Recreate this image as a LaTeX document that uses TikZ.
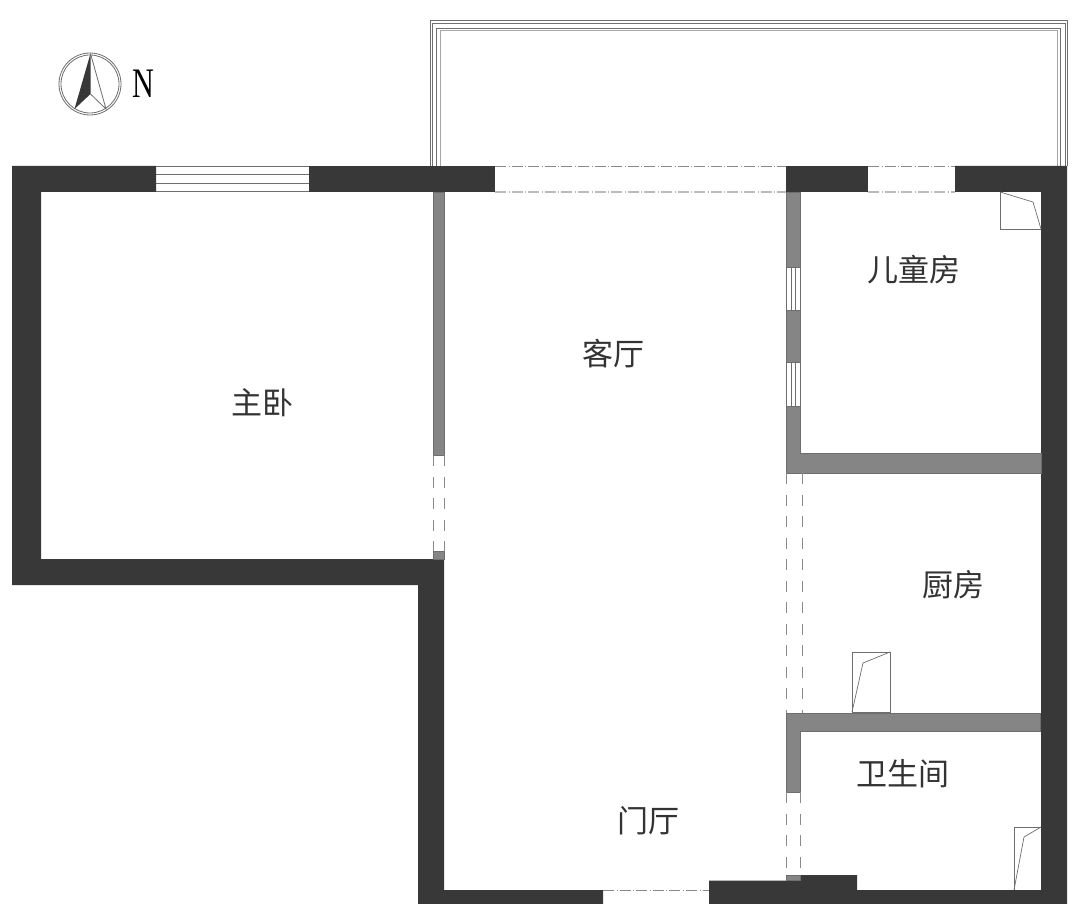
\documentclass[tikz,border=0pt]{standalone}
\usepackage{fontspec}
\usepackage{graphicx}
\setmainfont{Liberation Serif}
\newfontfamily\cjk{Noto Sans CJK SC}
\definecolor{darkwall}{HTML}{383838}
\definecolor{graywall}{HTML}{858585}
\definecolor{thinline}{HTML}{6E6E6E}
\definecolor{dashline}{HTML}{8A8A8A}
\definecolor{paledash}{HTML}{BBBBBB}
\definecolor{labelink}{HTML}{333333}
\tikzset{
  x=1pt,y=-1pt,
  darkfill/.style={fill=darkwall,draw=none},
  grayfill/.style={fill=graywall,draw=thinline,line width=0.7pt},
  thin line/.style={draw=thinline,line width=0.8pt},
  open dash/.style={draw=dashline,line width=0.8pt,dash pattern=on 11pt off 10.5pt},
  wide dash/.style={draw=dashline,line width=0.8pt,dash pattern=on 11pt off 2.5pt on 0.6pt off 2.5pt},
  pale dash/.style={draw=paledash,line width=1.2pt,dash pattern=on 11pt off 2.5pt on 0.6pt off 2.5pt},
  roomlabel/.style={font=\cjk\fontsize{31}{31}\selectfont,text=labelink,inner sep=0pt,anchor=center},
  fixture/.style={draw=thinline,line width=0.7pt}
}
\begin{document}
\begin{tikzpicture}
\useasboundingbox (0,0) rectangle (1081,904);
\fill[white] (0,0) rectangle (1081,904);
% balcony
\draw[thin line] (430,166) -- (430,20.5) -- (1067,20.5) -- (1067,166);
\draw[thin line] (432.5,166) -- (432.5,23.5) -- (1065,23.5) -- (1065,166);
\draw[thin line] (436,166) -- (436,28) -- (1060.5,28) -- (1060.5,166);
\draw[draw=black!35,line width=1pt] (440,166) -- (440,31) -- (1057,31) -- (1057,166);
% dark walls
\path[darkfill] (12,166) -- (156,166) -- (156,192) -- (41,192) -- (41,559) -- (444,559) -- (444,890) -- (603,890) -- (603,904) -- (418,904) -- (418,585) -- (12,585) -- cycle;
\path[darkfill] (309,166) rectangle (495,192);
\path[darkfill] (786,166) rectangle (868,192);
\path[darkfill] (955,166) -- (1067,166) -- (1067,904) -- (709,904) -- (709,880.5) -- (800,880.5) -- (800,875) -- (857,875) -- (857,890) -- (1041,890) -- (1041,192) -- (955,192) -- cycle;
% gray walls
\path[grayfill] (433,192) rectangle (444,455);
\path[grayfill] (433,551) rectangle (444,559);
\path[grayfill] (786,192) -- (800,192) -- (800,267) -- (786,267) -- cycle;
\path[grayfill] (786,310) rectangle (800,362);
\path[grayfill] (786,406) -- (800,406) -- (800,453) -- (1041,453) -- (1041,473) -- (786,473) -- cycle;
\path[grayfill] (786,713) -- (1040,713) -- (1040,731.5) -- (800,731.5) -- (800,792) -- (786,792) -- cycle;
\path[grayfill] (786,875) rectangle (800,880.5);
% windows
\foreach \yy in {166.5,174.5,183,191.5} \draw[thin line] (156,\yy) -- (309,\yy);
\foreach \xx in {786,791,795,800} {
  \draw[thin line] (\xx,267) -- (\xx,310);
  \draw[thin line] (\xx,362) -- (\xx,406);
}
% openings
\draw[wide dash] (495,166) -- (786,166);
\draw[pale dash] (495,192) -- (786,192);
\draw[wide dash] (868,166) -- (955,166);
\draw[pale dash] (868,192) -- (955,192);
\draw[open dash] (433,455) -- (433,551);
\draw[open dash] (444,455) -- (444,551);
\draw[open dash] (786,473) -- (786,713);
\draw[open dash] (802,473) -- (802,713);
\draw[open dash] (786,792) -- (786,875);
\draw[open dash] (800,792) -- (800,875);
\draw[wide dash] (603,890) -- (709,890);
% fixtures
\draw[fixture] (1000,192) -- (1000,229) -- (1041,229);
\draw[fixture] (1000,192) -- (1033,202) -- (1041,229);
\draw[fixture] (852,712) rectangle (890,652);
\draw[fixture] (852,712) -- (863,663) -- (890,652);
\draw[fixture] (1014,890) -- (1014,827) -- (1041,827);
\draw[fixture] (1014,890) -- (1024,837) -- (1041,827);
% compass
\draw[draw=thinline,line width=0.8pt] (90,84) circle[radius=31];
\draw[draw=thinline,line width=0.8pt] (90,84) circle[radius=29];
\fill[darkwall] (90.5,53.5) -- (74.5,109) -- (90.5,94) -- cycle;
\draw[draw=thinline,line width=0.8pt] (90.5,53.5) -- (106,109) -- (90.5,94);
\node[inner sep=0pt,anchor=center] (north) at (143,83.5) {\scalebox{0.72}[1]{\fontsize{42}{42}\selectfont N}};
% labels
\node[roomlabel] (zhuwo) at (262,403) {主卧};
\node[roomlabel] (keting) at (613,354) {客厅};
\node[roomlabel] (ertong) at (913.5,270) {儿童房};
\node[roomlabel] (chufang) at (953.5,585) {厨房};
\node[roomlabel] (weisheng) at (903,774) {卫生间};
\node[roomlabel] (menting) at (648,821) {门厅};
\end{tikzpicture}
\end{document}
